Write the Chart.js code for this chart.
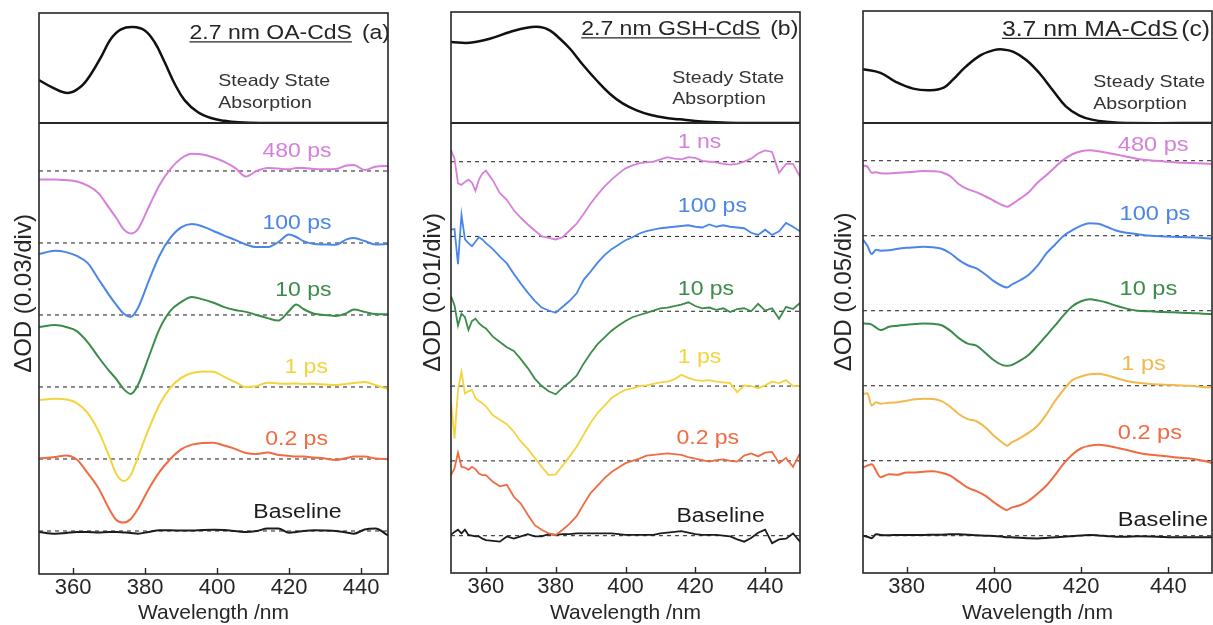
<!DOCTYPE html>
<html>
<head>
<meta charset="utf-8">
<title>Transient absorption of CdS nanocrystals</title>
<script src="https://cdn.jsdelivr.net/npm/chart.js@4.4.1/dist/chart.umd.min.js"></script>
<style>
  html, body { margin: 0; padding: 0; background: #fff; }
  #fig { position: relative; width: 1213px; height: 625px; overflow: hidden; }
  #fig canvas { position: absolute; top: 0; }
</style>
</head>
<body>
<div id="fig">
  <canvas id="panelA" width="400" height="625" style="left:0"></canvas>
  <canvas id="panelB" width="413" height="625" style="left:400px"></canvas>
  <canvas id="panelC" width="400" height="625" style="left:813px"></canvas>
</div>
<script>
// Transient absorption of CdS quantum dots with three different ligand shells.
// Trace values are ΔOD in mOD, relative to each trace's own zero line;
// the steady-state absorption on top is normalised to 0..1.

const FONT = '"Liberation Sans", Arial, sans-serif';
const INK = "#262626";
const STRETCH = 1.15;   // panel annotations use a wide sans

// ---------- (a) 2.7 nm OA-CdS ----------
const wlOA = [350.5, 355, 358, 361, 364, 367, 370, 372, 374, 376, 378, 381, 384, 387, 390, 393, 396, 399,
  402, 405, 408, 411, 414, 417, 420, 422, 424, 427, 430, 433, 436, 438, 441, 444, 447.5];
const absWlOA = [350.5, 354, 358.5, 362, 365, 368, 370.5, 373.3, 376.6, 379.8, 382.6, 385.4, 388.2, 391, 394.6, 398.3, 402, 406, 412, 447.5];
const absOA = [0.39, 0.327, 0.273, 0.327, 0.448, 0.615, 0.766, 0.852, 0.873, 0.843, 0.736, 0.555, 0.357, 0.206, 0.1, 0.045, 0.02, 0.006, 0, 0];
const oa480ps = [-3.5, -3.5, -3.8, -4.4, -6.1, -9.2, -15.4, -19.6, -24.2, -26.0, -24.2, -15.0, -5.8, 0.8, 5.2, 7.2, 6.9, 5.6,
  3.8, 1.3, -2.3, 0, 1.3, 1.0, 0.7, 1.3, 1.3, 0.8, 0.7, 0.8, 2.3, 2.5, 0.4, 1.8, 2.1];
const oa100ps = [-4.6, -3.2, -3.8, -5.4, -8.3, -15.0, -21.7, -25.8, -29.4, -30.8, -27.1, -15.8, -5.2, 2.1, 6.5, 7.9, 6.9, 5.0,
  3.1, 1.3, -0.6, -1.7, -1.7, 0.4, 3.5, 2.5, 0.8, -0.4, -0.6, -0.7, 1.5, 2.1, 0.8, -0.6, -0.4];
const oa10ps = [-5.0, -4.2, -5.0, -6.7, -11.3, -17.5, -23.3, -26.7, -30.8, -32.9, -29.2, -17.5, -5.8, 1.7, 5.4, 7.5, 6.5, 5.1,
  3.3, 2.1, 1.3, 0, -1.3, -2.3, 1.7, 4.4, 2.5, 0.5, 0, -0.4, 0.8, 2.3, 1.3, 0.4, 0.3];
const oa1ps = [-5.5, -4.9, -5.2, -6.7, -10.8, -18.3, -28.8, -36.3, -39.2, -36.7, -29.2, -17.5, -7.3, -0.4, 3.8, 5.8, 6.5, 6.4,
  4.2, 2.1, 0, 0.4, 1.8, 1.5, 1.4, 1.5, 1.3, 1.4, 1.0, 0.8, 1.3, 1.7, 2.1, 0.8, -1.0];
const oa02ps = [0.3, 0.8, 1.5, -0.2, -5.8, -12.1, -20.8, -25.4, -26.5, -25.0, -20.8, -12.5, -5.4, 0, 4.0, 6.0, 6.7, 6.8,
  5.6, 4.2, 2.5, 2.1, 2.7, 1.7, 1.3, 1.0, 1.0, 0.6, 0.2, -0.4, 0.4, 1.0, 1.0, 0.2, -0.1];
const oaBaseline = [-0.4, -1.1, -0.8, -0.4, -0.4, -0.6, -0.4, -0.4, -0.6, -0.8, -1.1, -0.4, 0.3, 0.3, 0.2, 0.2, 0.4, 0.5,
  0.4, 0, -0.4, 0, 1.0, 1.0, -0.7, -0.4, 0, 0.3, 0.2, 0, -0.6, -1.1, 0.6, 1.0, -1.8];
const delaysOA = ["480 ps", "100 ps", "10 ps", "1 ps", "0.2 ps", "Baseline"];
const offsetsOA = [150, 120, 90, 60, 30, 0];      // 30 mOD per division
const ticksOA = [360, 380, 400, 420, 440];

// ---------- (b) 2.7 nm GSH-CdS ----------
const wlGSH = [350, 351, 352, 353, 354, 355, 356, 357, 358, 359, 360, 362, 364, 366, 368, 370, 372, 374, 376, 378,
  380, 382, 384, 386, 388, 390, 392, 394, 396, 398, 400, 402, 404, 406, 408, 410, 412, 414, 416, 418,
  420, 422, 424, 426, 428, 430, 432, 434, 436, 438, 440, 442, 444, 446, 448, 450];
const absWlGSH = [350, 355.4, 361.1, 366.9, 371.7, 375.5, 378.3, 381.2, 384.1, 387.9, 391.7, 395.5, 399.3, 403.2, 407, 411.8, 415.6, 420, 426, 432, 450];
const absGSH = [0.73, 0.723, 0.759, 0.82, 0.859, 0.865, 0.835, 0.759, 0.669, 0.52, 0.385, 0.264, 0.174, 0.114, 0.075, 0.045, 0.033, 0.018, 0.006, 0, 0];
const gsh1ns = [1.6, 0.4, -2.9, -3.1, -2.7, -2.4, -2.8, -3.9, -2.4, -1.6, -1.2,
  -2.5, -4.2, -5.1, -6.5, -7.5, -8.4, -9.2, -10.0, -10.2, -10.4,
  -10.1, -9.2, -8.3, -7.0, -5.6, -4.4, -3.3, -2.4, -1.6, -0.9,
  -0.5, -0.2, -0.1, 0, 0.3, 0.6, 0.4, 0.3, 0.6, 0.5,
  0.1, 0, -0.1, -0.3, -0.4, -0.3, 0, 0.4, 1.1, 1.5,
  1.3, -1.5, -0.3, -0.3, -2.0];
const gsh100ps = [0.9, 1.0, -3.7, 2.9, -0.4, -0.9, -1.3, -0.7, -0.1, -0.4, -0.9,
  -1.7, -2.7, -3.6, -5.0, -6.3, -7.5, -8.6, -9.5, -9.9, -10.2,
  -9.4, -8.6, -7.6, -5.8, -4.7, -3.5, -2.5, -1.7, -1.1, -0.5,
  -0.1, 0.4, 0.7, 0.9, 1.1, 1.2, 1.3, 1.4, 1.5, 1.3,
  1.2, 1.6, 1.3, 1.5, 1.3, 1.2, 1.1, 0.5, 0.2, 0.9,
  0.2, 0.7, 1.8, 1.3, 0.7];
const gsh10ps = [2.0, 0.8, -1.9, -0.3, -0.8, -2.5, -1.3, -1.0, -1.6, -2.0, -2.3,
  -3.4, -4.1, -4.8, -5.3, -6.4, -7.6, -9.0, -10.0, -10.7, -11.1,
  -10.2, -9.5, -8.6, -7.0, -5.6, -4.4, -3.5, -2.6, -1.9, -1.3,
  -0.8, -0.5, -0.2, 0.1, 0.4, 0.5, 0.7, 0.9, 1.2, 0.7,
  0.4, 0.5, 0.2, 0.4, -0.1, 0.3, 0.4, 0, 1.0, 0.1,
  0.4, -1.0, 0.6, 0.3, 1.1];
const gsh1ps = [-2.1, -7.0, -0.5, 1.9, -1.0, -0.7, -0.5, -1.6, -2.0, -2.3, -2.7,
  -3.9, -4.5, -5.1, -6.1, -7.4, -8.4, -9.6, -10.8, -11.9, -11.8,
  -10.6, -9.4, -8.1, -6.5, -4.9, -3.6, -2.6, -1.6, -1.0, -0.5,
  -0.3, 0, 0.1, 0.3, 0.5, 0.6, 0.9, 1.5, 1.1, 0.8,
  0.7, 0.8, 0.6, 0.5, 0.4, -0.8, 0.1, 0, -0.3, 0.1,
  0.6, 0.4, 0.8, 0, 0];
const gsh02ps = [-1.9, -1.0, 1.1, -0.8, -0.9, -1.2, -0.8, -1.1, -1.7, -1.9, -1.9,
  -2.8, -3.4, -3.2, -4.8, -5.7, -7.2, -8.6, -9.2, -9.7, -9.9,
  -9.2, -8.4, -7.4, -5.8, -4.3, -3.3, -2.3, -1.5, -0.9, -0.3,
  0, 0.3, 0.7, 0.8, 0.9, 1.0, 0.9, 0.8, 0.5, 0.3,
  0.1, -0.1, 0.1, 0.2, 0, -0.1, 0.7, 1.0, 0.6, 1.1,
  1.2, -0.3, 0.4, -0.8, 1.0];
const gshBaseline = [0.1, 0.5, 0.8, 0.3, 0.8, 0.1, 0, -0.1, -0.1, -0.4, -0.6,
  -0.7, -0.8, -0.1, -0.4, -0.1, 0.2, -0.1, -0.1, 0.2, 0.1,
  0.2, 0.2, 0.3, 0.3, 0.3, 0.3, 0.3, 0.3, 0.2, 0.1,
  0.1, 0.1, 0.1, 0.1, 0.3, 0.4, 0.5, 0.6, 0.4, 0.2,
  0.1, 0.1, 0.1, 0, -0.1, -0.5, -0.8, -0.3, 0.4, 0.8,
  -1.0, -0.5, -0.4, 0.3, -0.8];
const delaysGSH = ["1 ns", "100 ps", "10 ps", "1 ps", "0.2 ps", "Baseline"];
const offsetsGSH = [50, 40, 30, 20, 10, 0];       // 10 mOD per division
const ticksGSH = [360, 380, 400, 420, 440];

// ---------- (c) 3.7 nm MA-CdS ----------
const wlMA = [370, 371, 372, 373, 374, 376, 378, 380, 382, 384, 386, 388, 390, 392, 394, 396, 398, 400, 402, 403,
  404, 406, 408, 410, 412, 414, 416, 418, 420, 422, 424, 426, 428, 430, 433, 436, 439, 442, 445, 448, 450];
const absWlMA = [370, 374, 377.5, 381.5, 385.5, 388.5, 390.5, 393.5, 397, 400, 402, 404.5, 407.5, 410.5, 413.5, 416.5, 419.5, 422.5, 426.5, 430.5, 450];
const absMA = [0.481, 0.448, 0.367, 0.307, 0.293, 0.316, 0.382, 0.501, 0.606, 0.651, 0.657, 0.636, 0.561, 0.442, 0.293, 0.149, 0.069, 0.030, 0.009, 0, 0];
const ma480ps = [-3.3, -4.0, -8.0, -7.7, -8.3, -8.5, -8.0, -7.7, -7.3, -6.8, -7.0, -7.7, -10.3, -15.7, -19.0, -21.0, -23.7, -26.7, -29.7, -30.7,
  -29.3, -25.3, -21.0, -14.7, -9.7, -4.3, 0.7, 4.3, 6.3, 7.0, 6.3, 5.3, 4.1, 3.0, 1.2, 0.2, -0.5, -1.2, -1.5, -1.9, -2.2];
const ma100ps = [-2.5, -6.7, -12.2, -9.3, -10.0, -9.7, -8.7, -8.1, -7.7, -7.3, -7.7, -8.7, -11.7, -16.3, -19.7, -21.8, -25.7, -30.3, -33.7, -34.5,
  -32.7, -29.7, -26.0, -20.0, -12.0, -6.0, 0, 3.7, 6.7, 8.3, 8.0, 5.8, 3.5, 2.2, 1.0, -0.1, -0.5, -0.8, -1.1, -1.6, -2.0];
const ma10ps = [-8.5, -8.7, -9.3, -11.3, -12.9, -10.7, -10.0, -9.3, -8.9, -8.5, -8.7, -9.7, -13.3, -18.3, -22.0, -23.3, -28.0, -33.0, -36.3, -36.7,
  -36.3, -33.3, -29.3, -23.3, -16.7, -10.0, -3.0, 3.0, 6.3, 7.7, 6.7, 5.3, 3.3, 1.7, 0, -0.4, -0.9, -1.2, -1.5, -2.0, -2.2];
const ma1ps = [-5.5, -5.1, -13.3, -11.0, -12.0, -11.3, -11.0, -10.0, -9.0, -8.7, -8.9, -10.3, -14.0, -19.0, -22.3, -23.7, -27.7, -33.3, -38.0, -40.0,
  -38.0, -35.0, -31.3, -26.7, -19.3, -10.3, -2.7, 3.7, 6.1, 7.7, 8.0, 6.8, 5.1, 3.5, 1.9, 1.2, 0.7, 0.3, -0.1, -0.8, -1.1];
const ma02ps = [-4.5, -3.3, -2.3, -6.7, -11.0, -9.0, -9.3, -7.8, -7.8, -7.3, -7.0, -8.0, -10.0, -14.0, -18.0, -20.3, -23.3, -27.7, -31.7, -32.9,
  -31.3, -29.7, -26.7, -22.0, -16.7, -9.7, -2.0, 4.1, 8.3, 10.0, 10.7, 9.9, 8.7, 7.5, 5.3, 3.9, 3.2, 2.1, 1.5, 0, -1.5];
const maBaseline = [0, -0.7, -1.7, 1.0, 0.5, 0.3, 0.5, 0.5, 0.5, 0.5, 0.7, 0.7, 0.9, 0.9, 0.7, 0.3, 0, -0.2, -0.7, -1.0,
  -1.1, -1.3, -1.7, -1.8, -1.5, -1.0, -0.7, -0.3, 0.1, 0.5, 0.2, -0.3, -0.7, -0.7, -0.4, -0.5, -0.9, -1.1, -1.0, -1.1, -1.1];
const delaysMA = ["480 ps", "100 ps", "10 ps", "1 ps", "0.2 ps", "Baseline"];
const offsetsMA = [250, 200, 150, 100, 50, 0];    // 50 mOD per division
const ticksMA = [380, 400, 420, 440];

const COLORS = ["#d680db", "#4a86e8", "#3b8c48", "#f3d43c", "#f06b42", "#1c1c1c"];
const COLORS_MA = ["#d680db", "#4a86e8", "#3b8c48", "#f2b94c", "#f06b42", "#1c1c1c"];

const PANELS = [
  {
    canvas: "panelA", name: "2.7 nm OA-CdS", tag: "(a)", tagGap: 10, titleSize: 20, labelSize: 20,
    yLabel: "ΔOD (0.03/div)",
    wl: wlOA, absWl: absWlOA, abs: absOA,
    traces: [oa480ps, oa100ps, oa10ps, oa1ps, oa02ps, oaBaseline],
    delays: delaysOA, offsets: offsetsOA, colors: COLORS, ticks: ticksOA,
    xRange: [350.5, 447.5], yRange: [-17.92, 170], smooth: true,
    labelAt: [431.8, 431.8, 431.8, 430.8, 430.8, 434.6], labelAlign: "right",
    labelLift: [20, 20, 25, 19.5, 20, 19],
    box: { top: 13, right: 12, left: 39, bottom: 51, absH: 110, taH: 451, yTitlePad: 12 },
    titleAt: [390, 39.3], steadyAt: [218.3, 86, 107.5],
  },
  {
    canvas: "panelB", name: "2.7 nm GSH-CdS", tag: "(b)", tagGap: 10, titleSize: 20, labelSize: 20,
    yLabel: "ΔOD (0.01/div)",
    wl: wlGSH, absWl: absWlGSH, abs: absGSH,
    traces: [gsh1ns, gsh100ps, gsh10ps, gsh1ps, gsh02ps, gshBaseline],
    delays: delaysGSH, offsets: offsetsGSH, colors: COLORS, ticks: ticksGSH,
    xRange: [350, 450], yRange: [-4.99, 55.17], smooth: false,
    labelAt: [415, 415, 415, 415, 414.6, 414.6], labelAlign: "left",
    labelLift: [19, 30, 22, 28.5, 22, 19],
    box: { top: 12, right: 13, left: 51, bottom: 52, absH: 111, taH: 450, yTitlePad: 21 },
    titleAt: [398.3, 35.3], steadyAt: [272.3, 83.3, 104],
  },
  {
    canvas: "panelC", name: "3.7 nm MA-CdS", tag: "(c)", tagGap: 3.4, titleSize: 21.5, labelSize: 20.5,
    yLabel: "ΔOD (0.05/div)",
    wl: wlMA, absWl: absWlMA, abs: absMA,
    traces: [ma480ps, ma100ps, ma10ps, ma1ps, ma02ps, maBaseline],
    delays: delaysMA, offsets: offsetsMA, colors: COLORS_MA, ticks: ticksMA,
    xRange: [370, 450], yRange: [-24.87, 275.13], smooth: true,
    labelAt: [428.4, 428.8, 428.8, 429.2, 428.4, 428.4], labelAlign: "left",
    labelLift: [15.7, 21.7, 21, 21.7, 27.7, 15],
    box: { top: 11, right: 1, left: 50, bottom: 52, absH: 112, taH: 450, yTitlePad: 19 },
    titleAt: [397, 35.7], steadyAt: [280.3, 87.3, 108.5],
  },
];

// draws text horizontally widened; returns the drawn width
function wideText(ctx, str, x, y, align) {
  const w = ctx.measureText(str).width * STRETCH;
  const left = align === "right" ? x - w : x;
  ctx.save();
  ctx.translate(left, y);
  ctx.scale(STRETCH, 1);
  ctx.textAlign = "left";
  ctx.fillText(str, 0, 0);
  ctx.restore();
  return w;
}

function decorPlugin(p) {
  return {
    id: "decor",
    afterDatasetsDraw(chart) {
      const { ctx, chartArea: a, scales } = chart;
      const x = scales.x, yTA = scales.yTA, yAbs = scales.yAbs;
      ctx.save();

      // frame, divider between the two stacked plots, inward ticks
      ctx.strokeStyle = INK;
      ctx.lineWidth = 1.6;
      ctx.strokeRect(a.left, a.top, a.right - a.left, a.bottom - a.top);
      ctx.lineWidth = 2.2;
      ctx.beginPath();
      ctx.moveTo(a.left, yAbs.bottom);
      ctx.lineTo(a.right, yAbs.bottom);
      ctx.stroke();
      ctx.lineWidth = 1.4;
      p.ticks.forEach(v => {
        const px = Math.round(x.getPixelForValue(v)) + 0.5;
        ctx.beginPath();
        ctx.moveTo(px, a.bottom);
        ctx.lineTo(px, a.bottom - 6);
        ctx.stroke();
      });

      // sample title with underlined name
      ctx.fillStyle = INK;
      ctx.textBaseline = "alphabetic";
      ctx.font = `${p.titleSize}px ${FONT}`;
      const [tx, ty] = p.titleAt;
      const tagW = wideText(ctx, p.tag, tx, ty, "right");
      const nameEnd = tx - tagW - p.tagGap;
      const nameW = wideText(ctx, p.name, nameEnd, ty, "right");
      ctx.lineWidth = 1.3;
      ctx.beginPath();
      ctx.moveTo(nameEnd - nameW, ty + 2.6);
      ctx.lineTo(nameEnd, ty + 2.6);
      ctx.stroke();

      ctx.fillStyle = "#333";
      ctx.font = `17px ${FONT}`;
      const [sx, sy1, sy2] = p.steadyAt;
      wideText(ctx, "Steady State", sx, sy1, "left");
      wideText(ctx, "Absorption", sx, sy2, "left");

      // delay-time labels above each trace
      ctx.font = `${p.labelSize}px ${FONT}`;
      ctx.textBaseline = "middle";
      p.delays.forEach((txt, i) => {
        ctx.fillStyle = p.colors[i];
        const px = x.getPixelForValue(p.labelAt[i]);
        const py = yTA.getPixelForValue(p.offsets[i]) - p.labelLift[i];
        wideText(ctx, txt, px, py, p.labelAlign);
      });
      ctx.restore();
    }
  };
}

function buildDatasets(p) {
  const sets = [{
    data: p.absWl.map((x, i) => ({ x, y: p.abs[i] })),
    yAxisID: "yAbs",
    borderColor: "#111",
    borderWidth: 2.5,
    pointRadius: 0,
    tension: 0.4,
    order: 1,
  }];
  p.traces.forEach((vals, i) => {
    const off = p.offsets[i];
    // zero line of this trace
    sets.push({
      data: [{ x: p.xRange[0], y: off }, { x: p.xRange[1], y: off }],
      yAxisID: "yTA",
      borderColor: "#333",
      borderWidth: 1.1,
      borderDash: [4, 4],
      pointRadius: 0,
      order: 2,
    });
    sets.push({
      data: p.wl.map((x, j) => ({ x, y: vals[j] + off })),
      yAxisID: "yTA",
      borderColor: p.colors[i],
      borderWidth: p.smooth ? 2 : 1.8,
      pointRadius: 0,
      order: 1,
      ...(p.smooth ? { cubicInterpolationMode: "monotone" } : { tension: 0 }),
    });
  });
  return sets;
}

const hidden = {
  grid: { display: false, drawTicks: false },
  border: { display: false },
  ticks: { display: false },
};

function panelConfig(p) {
  const b = p.box;
  return {
    type: "line",
    data: { datasets: buildDatasets(p) },
    options: {
      responsive: false,
      animation: false,
      devicePixelRatio: 1,
      events: [],
      layout: { padding: { top: b.top, right: b.right, bottom: 0, left: 0 } },
      plugins: { legend: { display: false }, tooltip: { enabled: false } },
      scales: {
        x: {
          type: "linear", position: "bottom", min: p.xRange[0], max: p.xRange[1],
          grid: { display: false, drawTicks: false },
          border: { display: false },
          ticks: { color: INK, font: { family: FONT, size: 22, lineHeight: 1 }, padding: 3, maxRotation: 0 },
          afterBuildTicks: s => { s.ticks = p.ticks.map(v => ({ value: v })); },
          title: { display: true, text: "Wavelength /nm", color: INK,
                   font: { family: FONT, size: 21, lineHeight: 1 }, padding: { top: 0, bottom: 1.5 } },
          afterFit: s => { s.height = b.bottom; },
        },
        yTitle: {
          ...hidden, type: "linear", position: "left", min: 0, max: 1, weight: 10,
          title: { display: true, text: p.yLabel, color: INK,
                   font: { family: FONT, size: 24, lineHeight: 1 }, padding: { top: b.yTitlePad, bottom: 0 } },
          afterFit: s => { s.width = b.left; },
        },
        yAbs: {
          ...hidden, type: "linear", position: "left", stack: "panel", stackWeight: b.absH, weight: 5,
          min: 0, max: 1,
          afterFit: s => { s.width = 0; },
        },
        yTA: {
          ...hidden, type: "linear", position: "left", stack: "panel", stackWeight: b.taH, weight: 1,
          min: p.yRange[0], max: p.yRange[1],
          afterFit: s => { s.width = 0; },
        },
      },
    },
    plugins: [decorPlugin(p)],
  };
}

PANELS.forEach(p => new Chart(document.getElementById(p.canvas), panelConfig(p)));
</script>
</body>
</html>
